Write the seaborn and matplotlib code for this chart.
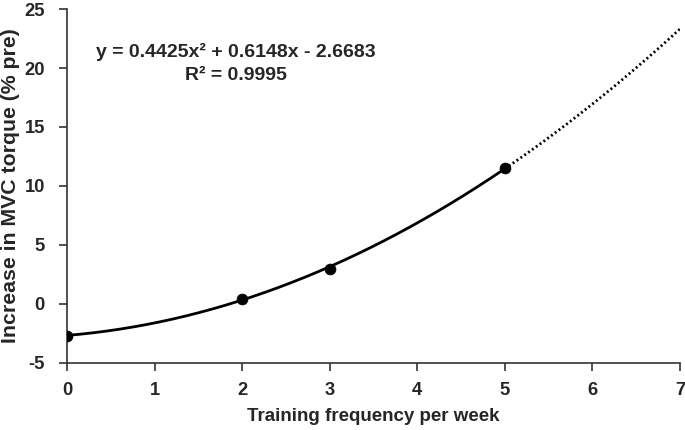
import numpy as np
import pandas as pd
import matplotlib
matplotlib.use("Agg")
import matplotlib.pyplot as plt
import seaborn as sns

freq = [0, 2, 3, 5]
increase = [-2.7, 0.45, 3.0, 11.5]
coef = [0.4425, 0.6148, -2.6683]
eq_text = "y = 0.4425x² + 0.6148x - 2.6683"
r2_text = "R² = 0.9995"
x_ticks = [0, 1, 2, 3, 4, 5, 6, 7]
y_ticks = [-5, 0, 5, 10, 15, 20, 25]

sns.set_theme(style="ticks")
plt.rcParams['font.family'] = ['Liberation Sans', 'DejaVu Sans']
plt.rcParams['font.weight'] = 'bold'
plt.rcParams['axes.unicode_minus'] = False

fig = plt.figure(figsize=(6.85, 4.3), dpi=100)
ax = fig.add_axes([0.0978, 0.156, 0.895, 0.823])

x_solid = np.linspace(0, 5, 200)
x_dot = np.linspace(5, 7, 100)
fit = pd.DataFrame({"x": x_solid, "y": np.polyval(coef, x_solid)})
fit2 = pd.DataFrame({"x": x_dot, "y": np.polyval(coef, x_dot)})
sns.lineplot(data=fit, x="x", y="y", ax=ax, color="black", lw=2.0)
sns.lineplot(data=fit2, x="x", y="y", ax=ax, color="black", lw=2.0, linestyle=(0, (0.7, 1.0)))
pts = pd.DataFrame({"freq": freq, "inc": increase})
sns.scatterplot(data=pts, x="freq", y="inc", ax=ax, color="black", s=60, edgecolor="black", zorder=5)

ax.set_xlim(0, 7)
ax.set_ylim(-5, 25)
ax.set_xticks(x_ticks)
ax.set_yticks(y_ticks)
ax.tick_params(axis="both", labelsize=13.2, length=6, width=1.2, color="#333333")
ax.tick_params(axis="x", pad=8)
ax.tick_params(axis="y", pad=10)
for lab in ax.get_xticklabels() + ax.get_yticklabels():
    lab.set_fontweight("bold")
for s in ["top", "right"]:
    ax.spines[s].set_visible(False)
for s in ["left", "bottom"]:
    ax.spines[s].set_color("#333333")
    ax.spines[s].set_linewidth(1.2)
ax.set_xlabel("Training frequency per week", fontsize=13.5, fontweight="bold", labelpad=6)
ax.set_ylabel("Increase in MVC torque (% pre)", fontsize=15.3, fontweight="bold", labelpad=3)
ax.text(0.276, 0.878, eq_text, transform=ax.transAxes, ha="center", va="center", fontsize=14, fontweight="bold")
ax.text(0.276, 0.812, r2_text, transform=ax.transAxes, ha="center", va="center", fontsize=14, fontweight="bold")

fig.savefig("out.png", dpi=100)
